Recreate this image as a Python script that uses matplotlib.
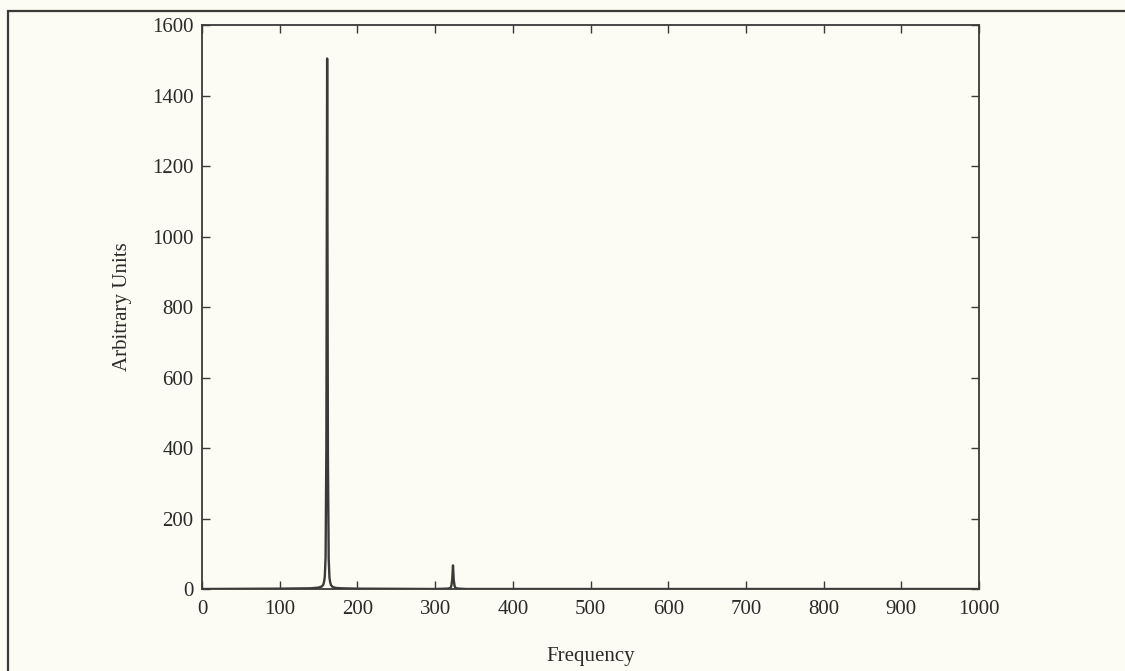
"""Power spectrum of the recorded signal: fundamental plus first harmonic."""
import matplotlib
matplotlib.use("Agg")
import matplotlib.pyplot as plt
from matplotlib.patches import Rectangle

# Spectrum samples (frequency, amplitude in arbitrary units)
freq = [0, 100, 140, 150, 154, 156, 157, 158, 159, 160, 161, 162, 163, 164, 165,
        166, 168, 172, 180, 200, 300, 315, 319, 320, 321, 322, 323, 324, 325, 326,
        327, 331, 340, 500, 1000]
amp = [0, 1, 2, 4, 7, 12, 20, 35, 90, 400, 1505, 380, 85, 32, 18,
       11, 6, 3, 2, 1, 0, 1, 2, 4, 10, 28, 67, 25, 9, 4,
       2, 1, 0, 0, 0]

xticks = [0, 100, 200, 300, 400, 500, 600, 700, 800, 900, 1000]
yticks = [0, 200, 400, 600, 800, 1000, 1200, 1400, 1600]

ink = "#3a3a38"
text_ink = "#2a2a2a"
paper = "#fcfcf4"

plt.rcParams["font.family"] = ["Liberation Serif", "DejaVu Serif"]
plt.rcParams["font.size"] = 15

fig = plt.figure(figsize=(11.25, 6.71), dpi=100, facecolor=paper)
ax = fig.add_axes([0.1796, 0.1222, 0.6906, 0.8405], facecolor=paper)

ax.plot(freq, amp, color=ink, linewidth=1.7)

ax.set_xlim(0, 1000)
ax.set_ylim(0, 1600)
ax.set_xticks(xticks)
ax.set_yticks(yticks)
ax.tick_params(direction="in", length=6, width=1, color=ink, labelcolor=text_ink,
               top=True, right=True)
ax.tick_params(axis="x", pad=8)
ax.tick_params(axis="y", pad=6)
for s in ax.spines.values():
    s.set_color(ink)
    s.set_linewidth(1.3)

ax.set_xlabel("Frequency", color=text_ink)
ax.set_ylabel("Arbitrary Units", color=text_ink)
ax.xaxis.set_label_coords(0.5, -0.103)
ax.yaxis.set_label_coords(-0.09, 0.5)

# page frame around the figure (runs off right and bottom edges)
fig.patches.append(Rectangle((8 / 1125, -0.05), 1.2, 1 - 11 / 671 + 0.05,
                             transform=fig.transFigure, fill=False,
                             edgecolor=ink, linewidth=1.6))

fig.savefig("out.png", dpi=100, facecolor=paper)
